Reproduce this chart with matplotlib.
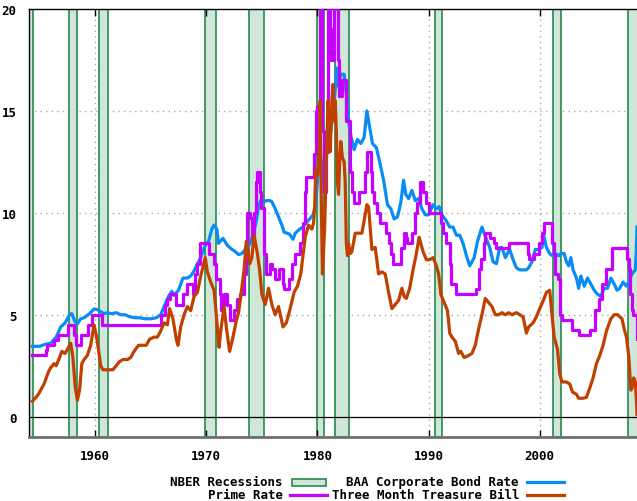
import matplotlib
matplotlib.use("Agg")
import matplotlib.pyplot as plt
from matplotlib.lines import Line2D
from matplotlib.patches import Rectangle

# NBER recessions (start, end) in decimal years
recessions = [(1953.58, 1954.38), (1957.62, 1958.33), (1960.33, 1961.12),
              (1969.92, 1970.88), (1973.88, 1975.21), (1980.0, 1980.55),
              (1981.55, 1982.88), (1990.55, 1991.2), (2001.2, 2001.88),
              (2007.9, 2009.5)]

# BAA corporate bond rate
baa_year = [1954.35, 1955.0, 1955.5, 1956.0, 1956.5, 1956.9, 1957.3, 1957.7, 1957.9, 1958.2,
            1958.4, 1958.7, 1959.0, 1959.5, 1959.9, 1960.2, 1960.5, 1960.8, 1961.1, 1961.5,
            1961.9, 1962.3, 1962.7, 1963.1, 1963.6, 1964.0, 1964.5, 1965.0, 1965.5, 1965.9,
            1966.2, 1966.6, 1966.9, 1967.1, 1967.5, 1967.9, 1968.3, 1968.6, 1968.9, 1969.2,
            1969.5, 1969.9, 1970.2, 1970.5, 1970.7, 1970.95, 1971.1, 1971.5, 1971.9, 1972.2,
            1972.6, 1972.9, 1973.2, 1973.5, 1973.7, 1973.9, 1974.2, 1974.5, 1974.7, 1974.9,
            1975.1, 1975.4, 1975.7, 1975.9, 1976.2, 1976.5, 1976.8, 1977.0, 1977.5, 1977.8,
            1978.0, 1978.4, 1978.7, 1978.95, 1979.3, 1979.6, 1979.8, 1979.95, 1980.2, 1980.35,
            1980.5, 1980.75, 1980.95, 1981.2, 1981.5, 1981.75, 1981.9, 1982.1, 1982.4, 1982.65,
            1982.85, 1983.0, 1983.3, 1983.6, 1983.9, 1984.2, 1984.45, 1984.7, 1984.95, 1985.3,
            1985.6, 1985.95, 1986.3, 1986.6, 1986.9, 1987.2, 1987.5, 1987.75, 1987.95, 1988.2,
            1988.5, 1988.8, 1989.1, 1989.4, 1989.7, 1990.0, 1990.4, 1990.7, 1990.95, 1991.2,
            1991.6, 1991.9, 1992.2, 1992.5, 1992.8, 1993.1, 1993.4, 1993.7, 1994.1, 1994.4,
            1994.8, 1995.2, 1995.5, 1995.8, 1996.1, 1996.4, 1996.6, 1996.9, 1997.3, 1997.6,
            1997.9, 1998.2, 1998.5, 1998.8, 1999.0, 1999.3, 1999.6, 1999.9, 2000.2, 2000.35,
            2000.6, 2000.9, 2001.1, 2001.4, 2001.7, 2001.9, 2002.2, 2002.4, 2002.6, 2002.8,
            2003.0, 2003.3, 2003.5, 2003.7, 2004.0, 2004.3, 2004.5, 2004.9, 2005.2, 2005.5,
            2005.8, 2006.1, 2006.4, 2006.7, 2006.95, 2007.2, 2007.5, 2007.8, 2008.0, 2008.3,
            2008.6, 2008.68, 2008.75]
baa_rate = [3.45, 3.45, 3.55, 3.6, 3.9, 4.4, 4.6, 5.0, 5.05, 4.65,
            4.55, 4.8, 4.85, 5.05, 5.28, 5.25, 5.15, 5.05, 5.1, 5.05,
            5.1, 5.0, 5.0, 4.9, 4.85, 4.85, 4.8, 4.8, 4.85, 5.0,
            5.4, 5.9, 6.15, 5.95, 6.2, 6.8, 6.8, 6.9, 7.15, 7.5,
            7.8, 8.4, 8.6, 9.2, 9.4, 9.2, 8.5, 8.75, 8.4, 8.25,
            8.1, 7.95, 8.0, 8.2, 8.6, 8.45, 8.9, 9.6, 10.3, 10.6,
            10.5, 10.6, 10.6, 10.55, 10.2, 9.8, 9.4, 9.05, 8.95, 8.7,
            9.0, 9.2, 9.3, 9.5, 9.7, 9.9, 10.3, 11.2, 13.0, 12.5,
            11.4, 12.8, 14.0, 14.0, 15.4, 17.1, 16.2, 16.8, 16.8, 15.6,
            14.3, 13.8, 13.1, 13.6, 13.4, 13.7, 15.0, 14.2, 13.4, 13.2,
            12.5, 11.6, 10.4, 10.2, 9.7, 9.8, 10.5, 11.6, 10.9, 10.7,
            11.1, 10.6, 10.7, 10.2, 9.9, 9.9, 10.4, 10.2, 10.3, 9.9,
            9.6, 9.3, 9.3, 8.9, 8.9, 8.5, 7.9, 7.4, 7.8, 8.6,
            9.3, 8.7, 8.3, 7.6, 7.5, 8.3, 8.3, 7.8, 8.2, 7.7,
            7.3, 7.2, 7.2, 7.2, 7.3, 7.6, 8.2, 8.2, 8.3, 8.9,
            8.3, 8.0, 7.9, 8.0, 7.9, 8.0, 8.0, 7.6, 7.4, 7.8,
            7.2, 6.8, 6.3, 6.9, 6.4, 6.8, 6.6, 6.2, 6.0, 5.9,
            6.3, 6.3, 6.8, 6.5, 6.2, 6.3, 6.6, 6.4, 6.6, 7.0,
            7.2, 8.0, 9.3]

# Prime rate (change dates)
prime_year = [1954.35, 1955.6, 1955.7, 1956.3, 1956.7, 1957.6, 1958.1, 1958.3, 1958.7, 1959.4,
              1959.7, 1960.6, 1965.9, 1965.95, 1966.3, 1966.5, 1966.7, 1967.3, 1967.9, 1968.3,
              1968.8, 1968.95, 1969.0, 1969.2, 1969.45, 1970.2, 1970.7, 1970.9, 1971.2, 1971.3,
              1971.4, 1971.6, 1971.9, 1972.1, 1972.5, 1972.8, 1973.0, 1973.4, 1973.55, 1973.7,
              1973.9, 1974.1, 1974.3, 1974.5, 1974.6, 1974.85, 1974.95, 1975.2, 1975.4, 1975.7,
              1975.9, 1976.2, 1976.5, 1976.9, 1977.0, 1977.4, 1977.75, 1978.0, 1978.4, 1978.7,
              1978.9, 1979.0, 1979.5, 1979.7, 1979.85, 1980.0, 1980.25, 1980.4, 1980.55, 1980.8,
              1980.95, 1981.1, 1981.25, 1981.45, 1981.6, 1981.85, 1981.95, 1982.2, 1982.5, 1982.6,
              1982.9, 1983.1, 1983.3, 1983.7, 1984.0, 1984.3, 1984.5, 1984.8, 1984.95, 1985.1,
              1985.4, 1985.6, 1986.0, 1986.2, 1986.4, 1986.6, 1986.8, 1987.2, 1987.5, 1987.8,
              1987.95, 1988.1, 1988.5, 1988.8, 1988.95, 1989.2, 1989.5, 1989.8, 1990.0, 1990.9,
              1991.1, 1991.3, 1991.6, 1991.9, 1992.0, 1992.5, 1994.2, 1994.25, 1994.5, 1994.7,
              1994.95, 1995.1, 1995.5, 1995.9, 1996.1, 1997.2, 1997.25, 1998.7, 1998.9, 1999.0,
              1999.5, 1999.9, 2000.2, 2000.4, 2000.95, 2001.1, 2001.25, 2001.4, 2001.6, 2001.85,
              2002.0, 2002.9, 2003.5, 2004.4, 2004.5, 2004.95, 2005.3, 2005.6, 2005.95, 2006.5,
              2007.7, 2007.85, 2008.0, 2008.1, 2008.3, 2008.4, 2008.7, 2008.75]
prime_rate = [3.0, 3.25, 3.5, 3.75, 4.0, 4.5, 4.0, 3.5, 4.0, 4.5,
              5.0, 4.5, 4.5, 5.0, 5.5, 5.75, 6.0, 5.5, 6.0, 6.5,
              6.0, 6.75, 7.0, 7.5, 8.5, 8.0, 7.5, 6.75, 6.0, 5.25,
              5.5, 6.0, 5.5, 4.75, 5.25, 5.75, 6.0, 7.0, 8.5, 10.0,
              9.75, 8.75, 10.0, 11.5, 12.0, 11.0, 10.25, 8.0, 7.0, 7.5,
              7.25, 6.75, 7.25, 6.5, 6.25, 6.75, 7.5, 8.0, 8.5, 9.5,
              11.0, 11.75, 11.75, 12.9, 15.0, 15.25, 20.5, 14.0, 11.0, 13.0,
              20.5, 19.0, 17.5, 20.5, 20.0, 17.5, 15.75, 16.5, 16.5, 14.5,
              12.0, 11.0, 10.5, 11.0, 11.0, 12.0, 13.0, 12.0, 11.0, 10.5,
              10.0, 9.5, 9.5, 9.0, 8.5, 8.0, 7.5, 7.5, 8.25, 9.0,
              8.75, 8.5, 9.0, 10.0, 10.5, 11.5, 11.0, 10.5, 10.0, 10.0,
              9.5, 9.0, 8.5, 7.5, 6.5, 6.0, 6.0, 6.25, 7.25, 7.75,
              8.5, 9.0, 8.75, 8.5, 8.25, 8.25, 8.5, 8.5, 8.0, 7.75,
              8.0, 8.5, 9.0, 9.5, 9.5, 8.5, 8.0, 7.0, 6.75, 5.0,
              4.75, 4.25, 4.0, 4.0, 4.25, 5.25, 5.75, 6.5, 7.25, 8.25,
              8.25, 7.75, 7.25, 6.0, 5.25, 5.0, 5.0, 3.8]

# Three month treasury bill
tbill_year = [1954.35, 1954.6, 1954.9, 1955.1, 1955.4, 1955.6, 1955.8, 1956.0, 1956.3, 1956.5,
              1956.8, 1957.0, 1957.3, 1957.6, 1957.8, 1958.0, 1958.2, 1958.4, 1958.6, 1958.8,
              1959.0, 1959.3, 1959.6, 1959.9, 1960.1, 1960.3, 1960.5, 1960.7, 1961.0, 1961.3,
              1961.6, 1961.9, 1962.2, 1962.5, 1962.9, 1963.2, 1963.5, 1963.9, 1964.2, 1964.6,
              1964.9, 1965.3, 1965.6, 1965.9, 1966.2, 1966.5, 1966.7, 1967.0, 1967.3, 1967.45,
              1967.7, 1968.0, 1968.3, 1968.6, 1968.9, 1969.2, 1969.5, 1969.9, 1970.1, 1970.4,
              1970.7, 1970.9, 1971.15, 1971.3, 1971.6, 1971.8, 1972.1, 1972.4, 1972.7, 1972.9,
              1973.1, 1973.4, 1973.6, 1973.7, 1973.9, 1974.1, 1974.3, 1974.6, 1974.8, 1975.0,
              1975.3, 1975.6, 1975.9, 1976.2, 1976.5, 1976.9, 1977.2, 1977.5, 1977.9, 1978.2,
              1978.5, 1978.9, 1979.2, 1979.5, 1979.65, 1979.75, 1979.85, 1979.95, 1980.05, 1980.15,
              1980.25, 1980.35, 1980.45, 1980.55, 1980.65, 1980.75, 1980.85, 1980.95, 1981.05, 1981.15,
              1981.3, 1981.4, 1981.5, 1981.6, 1981.7, 1981.8, 1981.9, 1982.0, 1982.1, 1982.25,
              1982.4, 1982.5, 1982.6, 1982.7, 1982.8, 1982.95, 1983.1, 1983.4, 1983.7, 1984.0,
              1984.45, 1984.6, 1984.9, 1985.2, 1985.5, 1985.8, 1986.1, 1986.4, 1986.7, 1987.0,
              1987.3, 1987.6, 1987.8, 1988.0, 1988.3, 1988.6, 1988.9, 1989.15, 1989.5, 1989.8,
              1990.1, 1990.4, 1990.7, 1990.9, 1991.1, 1991.4, 1991.7, 1991.9, 1992.1, 1992.4,
              1992.7, 1992.9, 1993.2, 1993.6, 1993.9, 1994.2, 1994.5, 1994.8, 1995.1, 1995.4,
              1995.7, 1996.0, 1996.3, 1996.6, 1996.9, 1997.2, 1997.5, 1997.9, 1998.2, 1998.5,
              1998.8, 1999.0, 1999.4, 1999.7, 2000.0, 2000.4, 2000.6, 2000.9, 2001.1, 2001.3,
              2001.6, 2001.8, 2002.0, 2002.4, 2002.7, 2002.95, 2003.3, 2003.5, 2003.9, 2004.2,
              2004.5, 2004.8, 2005.1, 2005.4, 2005.7, 2006.0, 2006.4, 2006.7, 2007.0, 2007.4,
              2007.6, 2007.8, 2008.0, 2008.2, 2008.3, 2008.45, 2008.6, 2008.7, 2008.75]
tbill_rate = [0.75, 0.9, 1.1, 1.3, 1.6, 1.9, 2.2, 2.4, 2.6, 2.5,
              2.9, 3.2, 3.1, 3.4, 3.6, 2.9, 1.5, 0.8, 1.3, 2.6,
              2.8, 3.0, 3.5, 4.5, 4.0, 3.3, 2.5, 2.3, 2.3, 2.3,
              2.3, 2.5, 2.7, 2.8, 2.8, 2.9, 3.2, 3.5, 3.5, 3.5,
              3.8, 3.9, 3.9, 4.2, 4.6, 4.5, 5.3, 4.8, 3.8, 3.5,
              4.4, 5.0, 5.4, 5.2, 5.9, 6.1, 6.9, 7.8, 7.1, 6.6,
              6.2, 5.0, 3.4, 4.2, 5.4, 4.4, 3.2, 3.9, 4.7, 5.1,
              5.9, 7.2, 8.6, 8.3, 7.5, 7.8, 8.9, 8.0, 7.2, 6.0,
              5.5, 6.3, 5.5, 5.0, 5.4, 4.4, 4.6, 5.2, 6.1, 6.4,
              7.0, 8.8, 9.4, 9.2, 9.5, 10.3, 12.1, 11.8, 12.0, 13.0,
              15.5, 10.5, 7.0, 8.1, 9.3, 11.5, 13.5, 15.5, 14.5, 13.0,
              15.5, 16.3, 14.5, 15.5, 14.0, 11.5, 10.9, 12.5, 13.5, 12.7,
              12.5, 11.5, 8.5, 7.9, 8.5, 8.0, 8.1, 9.0, 9.0, 9.0,
              10.4, 10.3, 8.2, 8.3, 7.0, 7.1, 7.0, 6.1, 5.3, 5.5,
              5.7, 6.3, 5.9, 5.8, 6.3, 7.2, 8.0, 8.8, 8.1, 7.7,
              7.7, 7.8, 7.4, 7.0, 6.0, 5.6, 5.2, 4.1, 3.9, 3.7,
              3.1, 3.2, 2.9, 3.0, 3.1, 3.5, 4.3, 5.0, 5.8, 5.6,
              5.4, 5.0, 5.0, 5.1, 5.0, 5.1, 5.0, 5.1, 5.0, 4.9,
              4.1, 4.4, 4.6, 4.9, 5.3, 5.8, 6.1, 6.2, 5.0, 3.9,
              3.3, 2.1, 1.7, 1.7, 1.6, 1.2, 1.1, 0.9, 0.9, 0.95,
              1.4, 1.9, 2.6, 3.0, 3.5, 4.2, 4.8, 5.0, 5.0, 4.8,
              4.3, 3.9, 3.0, 1.3, 1.4, 1.9, 1.7, 0.8, 0.1]

xticks = [1960, 1970, 1980, 1990, 2000]
yticks = [0, 5, 10, 15, 20]

W, H = 637, 502
font = {'family': 'DejaVu Sans Mono', 'weight': 'bold', 'size': 9}

fig = plt.figure(figsize=(W / 100, H / 100), dpi=100)
ax = fig.add_axes([29 / W, 1 - 438 / H, 1 - 29 / W, (438 - 10) / H])

for a, b in recessions:
    ax.axvspan(a, b, facecolor='#cfe6d8', edgecolor='#238b4e', lw=1.2, zorder=1)

for xv in xticks:
    ax.axvline(xv, color='#a8a8a8', lw=1, ls=(0, (1, 3)), zorder=0.5)
for yv in [5, 10, 15]:
    ax.axhline(yv, color='#a8a8a8', lw=1, ls=(0, (1, 3)), zorder=0.5)
ax.axhline(0, color='black', lw=0.9, zorder=2)

blue, purple, orange = '#0a8cf5', '#c800ff', '#c04000'
ax.plot(baa_year, baa_rate, color=blue, lw=2.3, zorder=3)
ax.plot(prime_year, prime_rate, color=purple, lw=2.3, zorder=4, drawstyle='steps-post')
ax.plot(tbill_year, tbill_rate, color=orange, lw=2.3, zorder=5)

ax.set_xlim(1954.05, 2008.75)
ax.set_ylim(-1, 20)
ax.set_xticks(xticks)
ax.set_yticks(yticks)
ax.set_xticklabels([str(v) for v in xticks], fontdict=font)
ax.set_yticklabels([str(v) for v in yticks], fontdict=font)
ax.tick_params(axis='x', direction='in', length=5, width=1, pad=9, color='black', top=True)
ax.tick_params(axis='y', length=0, pad=9)
ax.spines['right'].set_visible(False)
ax.spines['top'].set_linewidth(1)
ax.spines['left'].set_linewidth(1)
ax.spines['bottom'].set_color('#707070')
ax.spines['bottom'].set_linewidth(2)

# legend, gnuplot style: right-aligned text followed by the sample
def fx(px):
    return px / W

def fy(py):
    return 1 - py / H

rows = [483, 496]
fig.text(fx(283), fy(rows[0]), 'NBER Recessions', ha='right', va='center', fontdict=font)
fig.patches.append(Rectangle((fx(292), fy(rows[0] + 3.5)), fx(34), 7 / H,
                             facecolor='#cfe6d8', edgecolor='#238b4e', lw=1.2,
                             transform=fig.transFigure, figure=fig))
fig.text(fx(519), fy(rows[0]), 'BAA Corporate Bond Rate', ha='right', va='center', fontdict=font)
fig.lines.append(Line2D([fx(527), fx(564)], [fy(rows[0])] * 2, color=blue, lw=2.3,
                        transform=fig.transFigure, figure=fig))
fig.text(fx(283), fy(rows[1]), 'Prime Rate', ha='right', va='center', fontdict=font)
fig.lines.append(Line2D([fx(290), fx(327)], [fy(rows[1])] * 2, color=purple, lw=2.3,
                        transform=fig.transFigure, figure=fig))
fig.text(fx(519), fy(rows[1]), 'Three Month Treasure Bill', ha='right', va='center', fontdict=font)
fig.lines.append(Line2D([fx(527), fx(564)], [fy(rows[1])] * 2, color=orange, lw=2.3,
                        transform=fig.transFigure, figure=fig))

fig.savefig('out.png', dpi=100)
